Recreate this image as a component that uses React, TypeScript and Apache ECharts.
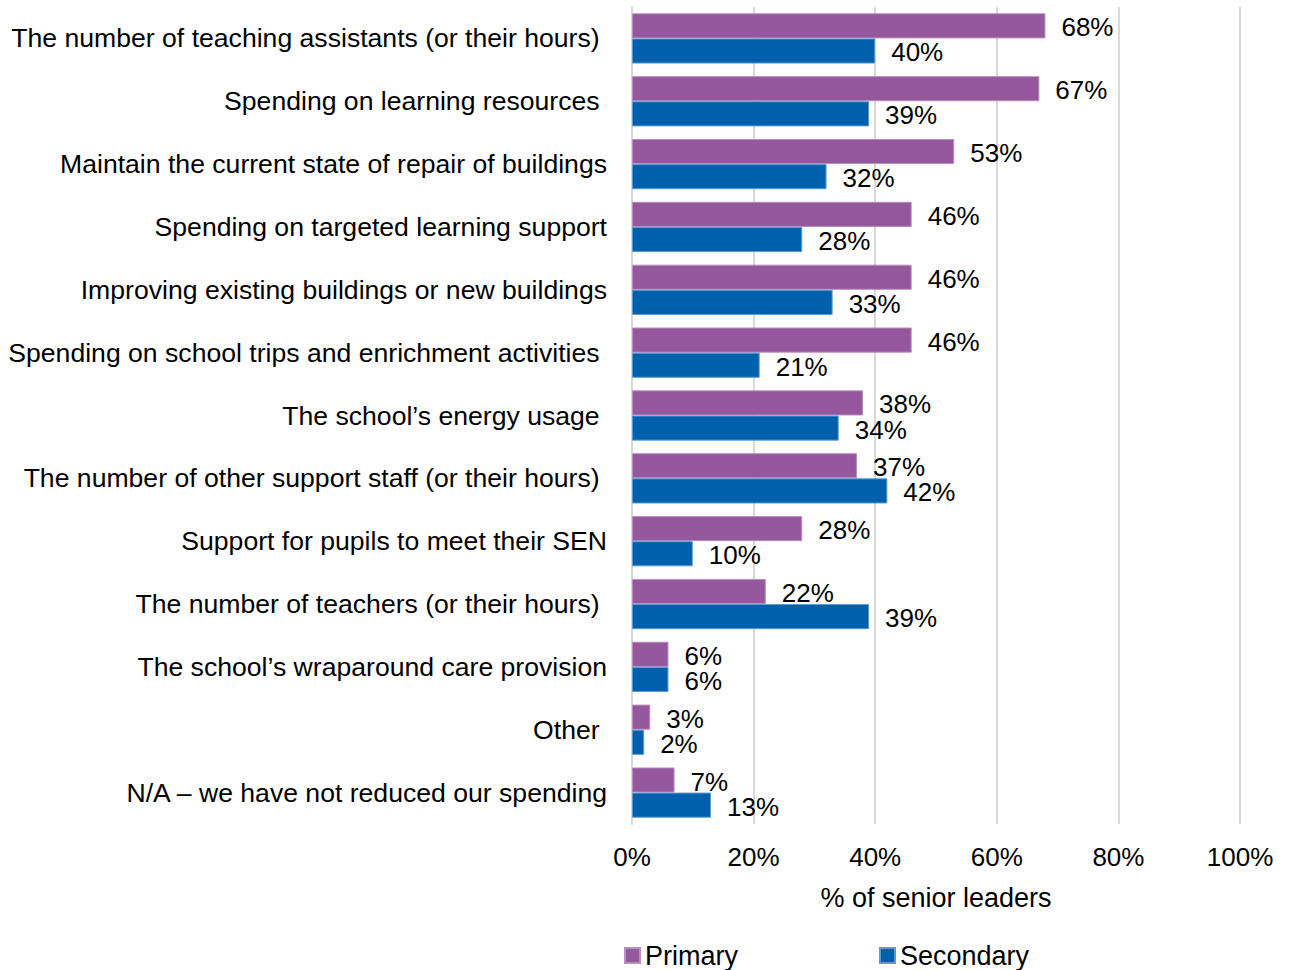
import React, { useEffect, useRef } from "react";
import * as echarts from "echarts";

const categories = [
  "The number of teaching assistants (or their hours) ",
  "Spending on learning resources ",
  "Maintain the current state of repair of buildings",
  "Spending on targeted learning support",
  "Improving existing buildings or new buildings",
  "Spending on school trips and enrichment activities ",
  "The school\u2019s energy usage ",
  "The number of other support staff (or their hours) ",
  "Support for pupils to meet their SEN",
  "The number of teachers (or their hours) ",
  "The school\u2019s wraparound care provision",
  "Other ",
  "N/A \u2013 we have not reduced our spending",
];

const primary = [68, 67, 53, 46, 46, 46, 38, 37, 28, 22, 6, 3, 7];
const secondary = [40, 39, 32, 28, 33, 21, 34, 42, 10, 39, 6, 2, 13];

const xTicks = [0, 20, 40, 60, 80, 100];

const FONT = "'Liberation Sans', Arial, sans-serif";

export default function App() {
  const ref = useRef<HTMLDivElement>(null);

  useEffect(() => {
    if (!ref.current) return;
    const chart = echarts.init(ref.current, undefined, { renderer: "svg" });
    const label = {
      show: true,
      position: "right",
      distance: 16,
      offset: [0, 1.5],
      formatter: (p: any) => `${p.value}%`,
      fontSize: 26,
      fontFamily: FONT,
      color: "#000",
    };
    chart.setOption({
      animation: false,
      textStyle: { fontFamily: FONT },
      grid: {
        left: 632,
        right: 53,
        top: 7,
        bottom: 146,
        containLabel: false,
        outerBoundsMode: "none",
      },
      legend: {
        data: ["Primary", "Secondary"],
        left: 619,
        top: 937,
        icon: "rect",
        itemWidth: 15,
        itemHeight: 15,
        itemGap: 141,
        textStyle: { fontSize: 27, fontFamily: FONT, color: "#000" },
      },
      xAxis: {
        type: "value",
        min: xTicks[0],
        max: xTicks[xTicks.length - 1],
        interval: 20,
        axisLabel: {
          formatter: (v: number) => `${v}%`,
          fontSize: 26,
          fontFamily: FONT,
          color: "#000",
          margin: 20,
        },
        axisLine: { show: false },
        axisTick: { show: false },
        splitLine: { show: true, lineStyle: { color: "#d9d9d9", width: 2 } },
        name: "% of senior leaders",
        nameLocation: "middle",
        nameGap: 60,
        nameTextStyle: { fontSize: 27, fontFamily: FONT, color: "#000" },
      },
      yAxis: {
        type: "category",
        data: categories,
        inverse: true,
        axisLine: { show: true, lineStyle: { color: "#d9d9d9", width: 2 } },
        axisTick: { show: false },
        axisLabel: {
          fontSize: 26.6,
          fontFamily: FONT,
          color: "#000",
          margin: 25,
        },
      },
      series: [
        {
          name: "Primary",
          type: "bar",
          data: primary,
          barGap: "0%",
          barCategoryGap: "20%",
          itemStyle: { color: "#95589d", borderColor: "#b88fbd", borderWidth: 1 },
          label,
        },
        {
          name: "Secondary",
          type: "bar",
          data: secondary,
          barGap: "0%",
          barCategoryGap: "20%",
          itemStyle: { color: "#0060ab", borderColor: "#5b9bd5", borderWidth: 1 },
          label,
        },
      ],
    });
    return () => chart.dispose();
  }, []);

  return (
    <div
      ref={ref}
      style={{ position: "absolute", left: 0, top: 0, width: 1293, height: 970, background: "#fff" }}
    />
  );
}
